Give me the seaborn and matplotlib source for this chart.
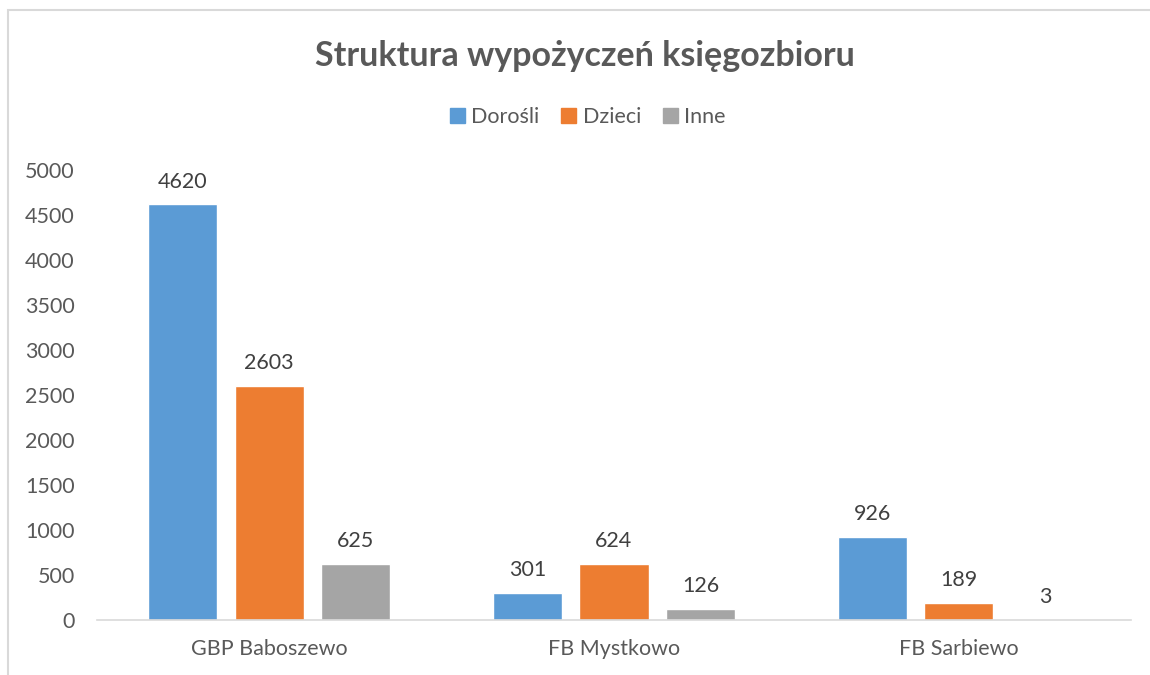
import pandas as pd
import matplotlib
matplotlib.use("Agg")
import matplotlib.pyplot as plt
import matplotlib.patches as mpatches
import seaborn as sns

# dane z wykresu
biblioteki = ["GBP Baboszewo", "FB Mystkowo", "FB Sarbiewo"]
grupy = ["Dorośli", "Dzieci", "Inne"]
dorosli = [4620, 301, 926]
dzieci = [2603, 624, 189]
inne = [625, 126, 3]
kolory = ["#5B9BD5", "#ED7D31", "#A5A5A5"]
y_ticks = [0, 500, 1000, 1500, 2000, 2500, 3000, 3500, 4000, 4500, 5000]

rows = []
for grupa, wartosci in zip(grupy, [dorosli, dzieci, inne]):
    for b, v in zip(biblioteki, wartosci):
        rows.append({"biblioteka": b, "grupa": grupa, "liczba": v})
df = pd.DataFrame(rows)

sns.set_theme(style="white")
plt.rcParams["font.family"] = ["Lato", "DejaVu Sans"]

fig = plt.figure(figsize=(11.5, 6.75), dpi=100)
ax = fig.add_axes([0.0843, 0.0815, 0.8992, 0.6665])

sns.barplot(data=df, x="biblioteka", y="liczba", hue="grupa", order=biblioteki,
            hue_order=grupy, palette=kolory, width=0.753, gap=0.2,
            saturation=1, ax=ax, legend=False)

for cont in ax.containers:
    ax.bar_label(cont, padding=9, fontsize=15.5, color="#404040")

ax.set_xlim(-0.5, 2.5)
ax.set_ylim(0, 5000)
ax.set_yticks(y_ticks)
ax.set_xlabel("")
ax.set_ylabel("")
ax.tick_params(axis="y", labelsize=15.5, labelcolor="#595959", length=0, pad=16)
ax.tick_params(axis="x", labelsize=15.5, labelcolor="#595959", length=0, pad=14)
for s in ["top", "right", "left"]:
    ax.spines[s].set_visible(False)
ax.spines["bottom"].set_color("#D9D9D9")
ax.spines["bottom"].set_linewidth(1.2)

fig.text(0.509, 0.917, "Struktura wypożyczeń księgozbioru", ha="center", va="center",
         fontsize=24.5, fontweight="bold", color="#595959")

handles = [mpatches.Patch(color=c, label=g) for g, c in zip(grupy, kolory)]
fig.legend(handles=handles, loc="center", bbox_to_anchor=(0.511, 0.827), ncol=3,
           frameon=False, fontsize=15.5, handlelength=0.7, handleheight=0.7,
           handletextpad=0.3, columnspacing=1.0, labelcolor="#595959")

# ramka wykresu
ramka = mpatches.Rectangle((8 / 1150, -0.1), 1.2, 1.1 - 10 / 675, transform=fig.transFigure,
                           fill=False, edgecolor="#D9D9D9", linewidth=1.5, clip_on=False)
fig.patches.append(ramka)

fig.savefig("out.png", dpi=100)
